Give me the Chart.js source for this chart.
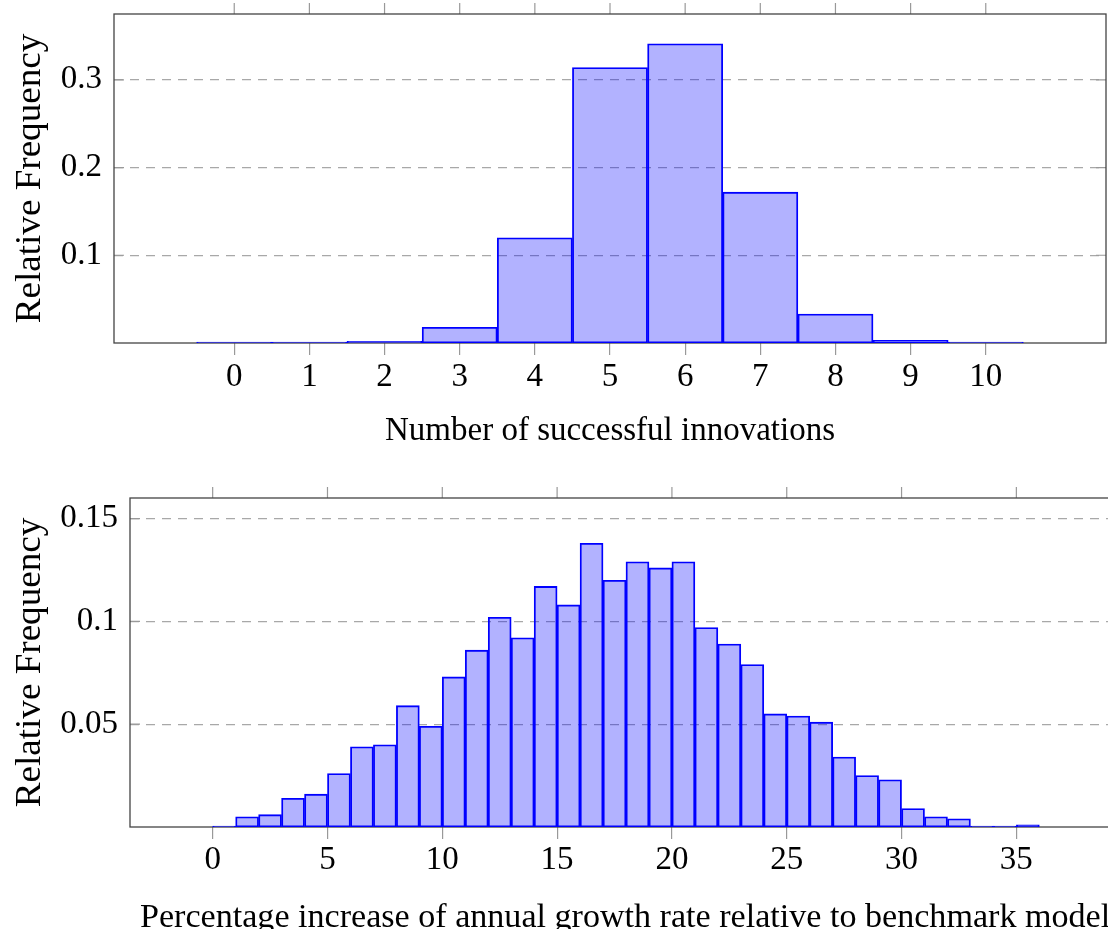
<!DOCTYPE html>
<html>
<head>
<meta charset="utf-8">
<script src="https://cdn.jsdelivr.net/npm/chart.js@4.4.1/dist/chart.umd.min.js"></script>
<style>
  html, body { margin: 0; padding: 0; background: #fff; overflow: hidden; width: 1108px; height: 929px; }
  #topChart { position: absolute; left: 0; top: 0; }
  #bottomChart { position: absolute; left: 0; top: 460px; }
</style>
</head>
<body>
<canvas id="topChart" width="1108" height="460"></canvas>
<canvas id="bottomChart" width="1160" height="469"></canvas>
<script>
// Top histogram: number of successful innovations
const innovationCounts = [0, 1, 2, 3, 4, 5, 6, 7, 8, 9, 10];
const innovationFreq = [0, 0, 0.002, 0.018, 0.12, 0.314, 0.341, 0.172, 0.033, 0.003, 0];
const innovationXTicks = [0, 1, 2, 3, 4, 5, 6, 7, 8, 9, 10];
const innovationYTicks = [0.1, 0.2, 0.3];
const innovationYLabels = ['0.1', '0.2', '0.3'];

// Bottom histogram: growth rate increase, bins [k, k+1)
const growthBinStarts = [0, 1, 2, 3, 4, 5, 6, 7, 8, 9, 10, 11, 12, 13, 14, 15, 16, 17,
                         18, 19, 20, 21, 22, 23, 24, 25, 26, 27, 28, 29, 30, 31, 32, 33, 34, 35];
const growthFreq = [0, 0.005, 0.006, 0.014, 0.016, 0.026, 0.039, 0.040, 0.059, 0.049,
                    0.073, 0.086, 0.102, 0.092, 0.117, 0.108, 0.138, 0.120, 0.129, 0.126,
                    0.129, 0.097, 0.089, 0.079, 0.055, 0.054, 0.051, 0.034, 0.025, 0.023,
                    0.009, 0.005, 0.004, 0, 0, 0.001];
const growthXTicks = [0, 5, 10, 15, 20, 25, 30, 35];
const growthYTicks = [0.05, 0.1, 0.15];
const growthYLabels = ['0.05', '0.1', '0.15'];

const SERIF = '"Liberation Serif", "Times New Roman", serif';
const FONT_SIZE = 33;

// pgfplots-like frame: box, mirrored x ticks on top, inward y ticks on both sides
const framePlugin = {
    id: 'pgfFrame',
    beforeDatasetsDraw(chart) {
        const ctx = chart.ctx;
        const a = chart.chartArea;
        const xs = chart.scales.x;
        const ys = chart.scales.y;
        ctx.save();
        ctx.strokeStyle = '#999';
        ctx.lineWidth = 1.2;
        xs.ticks.forEach(t => {
            const px = xs.getPixelForValue(t.value);
            ctx.beginPath();
            ctx.moveTo(px, a.top - 11);
            ctx.lineTo(px, a.top);
            ctx.stroke();
        });
        ys.ticks.forEach(t => {
            const py = ys.getPixelForValue(t.value);
            ctx.beginPath();
            ctx.moveTo(a.left, py);
            ctx.lineTo(a.left + 10, py);
            ctx.moveTo(a.right - 10, py);
            ctx.lineTo(a.right, py);
            ctx.stroke();
        });
        ctx.strokeStyle = '#444';
        ctx.lineWidth = 1.3;
        ctx.strokeRect(a.left, a.top, a.right - a.left, a.bottom - a.top);
        ctx.restore();
    },
    afterDraw(chart, args, opts) {
        const ctx = chart.ctx;
        const a = chart.chartArea;
        ctx.save();
        ctx.fillStyle = '#000';
        ctx.textBaseline = 'alphabetic';

        // x label, left edge given (Times is narrower than Computer Modern)
        ctx.save();
        ctx.font = FONT_SIZE + 'px ' + SERIF;
        ctx.translate(opts.xTitleX, opts.xTitleY);
        ctx.scale(opts.xStretch, 1);
        ctx.textAlign = 'left';
        ctx.fillText(opts.xTitle, 0, 0);
        ctx.restore();

        // y label, centred on the axis
        ctx.font = '35px ' + SERIF;
        ctx.translate(opts.yTitleX, (a.top + a.bottom) / 2);
        ctx.rotate(-Math.PI / 2);
        ctx.scale(1.06, 1);
        ctx.textAlign = 'center';
        ctx.fillText(opts.yTitle, 0, 0);
        ctx.restore();
    }
};

function buildHistogram(canvasId, s) {
    const ctx = document.getElementById(canvasId).getContext('2d');
    return new Chart(ctx, {
        type: 'bar',
        data: {
            datasets: [{
                data: s.centers.map((c, i) => ({ x: c, y: s.values[i] })),
                backgroundColor: 'rgba(0, 0, 255, 0.3)',
                borderColor: '#0000ff',
                borderWidth: 1.2,
                borderSkipped: false,
                minBarLength: 1,
                barPercentage: 1,
                categoryPercentage: 1
            }]
        },
        options: {
            responsive: false,
            animation: false,
            events: [],
            layout: { padding: s.padding },
            plugins: {
                legend: { display: false },
                tooltip: { enabled: false },
                pgfFrame: {
                    xTitle: s.xTitle, xTitleX: s.xTitleX, xTitleY: s.xTitleY, xStretch: s.xStretch,
                    yTitle: 'Relative Frequency', yTitleX: 40
                }
            },
            scales: {
                x: {
                    type: 'linear',
                    offset: false,
                    min: s.xMin,
                    max: s.xMax,
                    afterBuildTicks: axis => { axis.ticks = s.xTicks.map(v => ({ value: v })); },
                    afterFit: axis => {
                        axis.height = s.xHeight;
                        axis.paddingLeft = 0;
                        axis.paddingRight = 0;
                    },
                    grid: {
                        offset: false,
                        drawOnChartArea: false,
                        drawTicks: true,
                        tickLength: 12,
                        color: '#999',
                        lineWidth: 1.2
                    },
                    border: { display: false },
                    ticks: {
                        color: '#000',
                        padding: s.xPad,
                        maxRotation: 0,
                        autoSkip: false,
                        font: { family: SERIF, size: FONT_SIZE },
                        callback: v => String(v)
                    }
                },
                y: {
                    min: 0,
                    max: s.yMax,
                    afterBuildTicks: axis => { axis.ticks = s.yTicks.map(v => ({ value: v })); },
                    afterFit: axis => {
                        axis.width = s.yWidth;
                        axis.paddingTop = 0;
                        axis.paddingBottom = 0;
                    },
                    grid: { drawTicks: false, color: '#a8a8a8', lineWidth: 1.2 },
                    border: { display: false, dash: [9, 7] },
                    ticks: {
                        color: '#000',
                        padding: 12,
                        font: { family: SERIF, size: FONT_SIZE },
                        callback: (v, i) => s.yLabels[i]
                    }
                }
            }
        },
        plugins: [framePlugin]
    });
}

buildHistogram('topChart', {
    centers: innovationCounts,
    values: innovationFreq,
    xMin: -1.6, xMax: 11.6, yMax: 0.375,
    xTicks: innovationXTicks,
    yTicks: innovationYTicks, yLabels: innovationYLabels,
    padding: { top: 14, right: 2, left: 0, bottom: 0 },
    yWidth: 114, xHeight: 117, xPad: 3,
    xTitle: 'Number of successful innovations', xTitleX: 385, xTitleY: 440, xStretch: 1.0
});

buildHistogram('bottomChart', {
    centers: growthBinStarts.map(b => b + 0.5),
    values: growthFreq,
    xMin: -3.6, xMax: 39.6, yMax: 0.16,
    xTicks: growthXTicks,
    yTicks: growthYTicks, yLabels: growthYLabels,
    padding: { top: 38, right: 38, left: 0, bottom: 0 },
    yWidth: 130, xHeight: 102, xPad: 2,
    xTitle: 'Percentage increase of annual growth rate relative to benchmark model',
    xTitleX: 140, xTitleY: 467, xStretch: 1.033
});
</script>
</body>
</html>
